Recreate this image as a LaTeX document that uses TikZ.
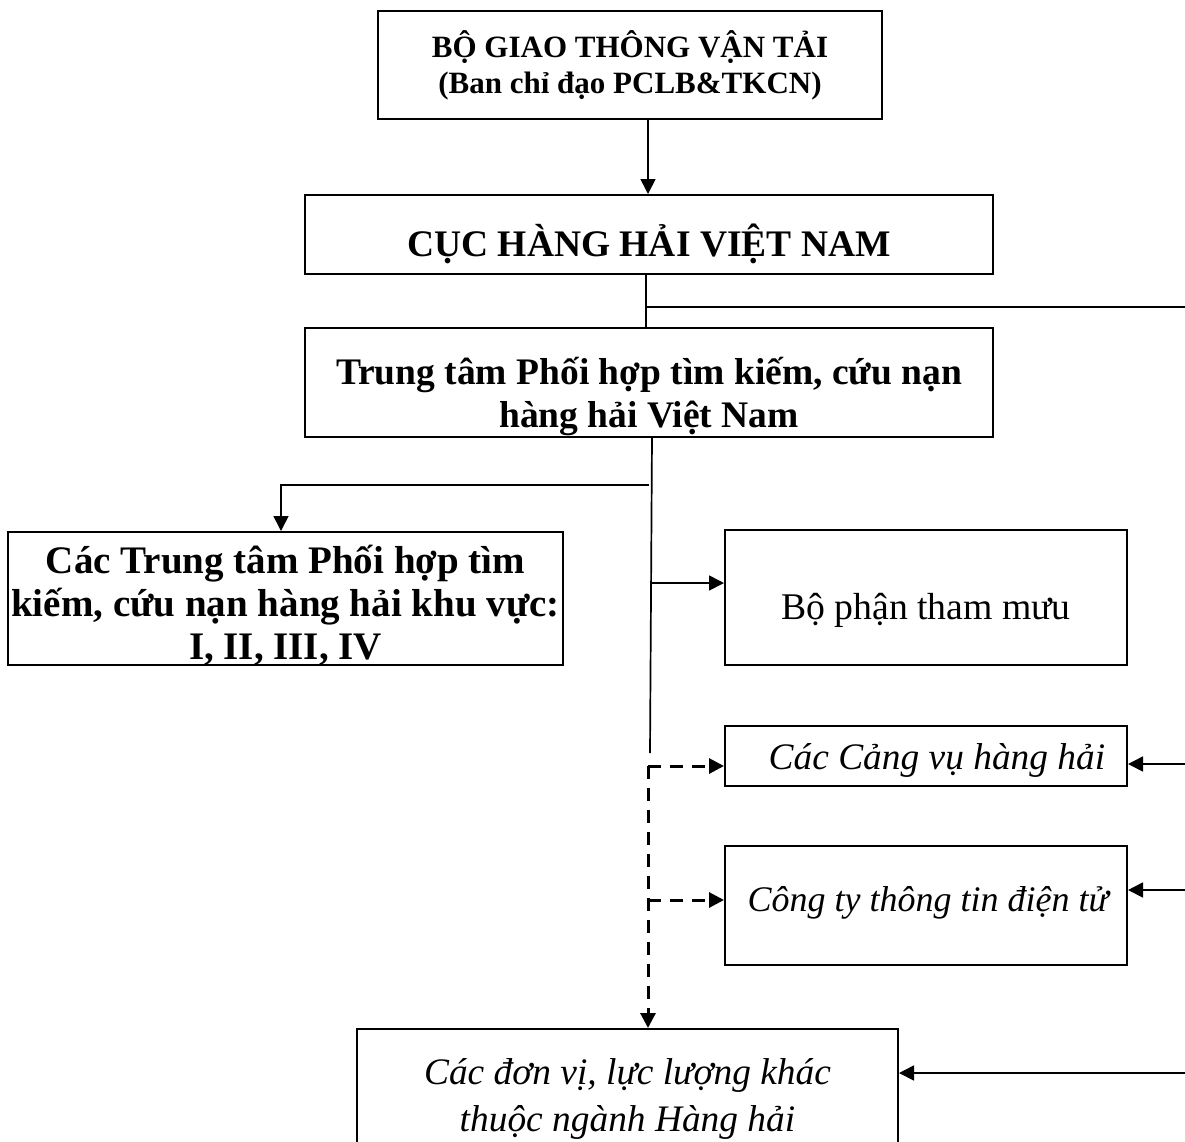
\documentclass[tikz,border=0pt]{standalone}
\usepackage{fontspec}
\setmainfont{Liberation Serif}
\usetikzlibrary{arrows.meta,calc}
\newcommand{\mvtext}[2]{\raisebox{#1}[\height][\depth]{\begin{tabular}{@{}c@{}}#2\end{tabular}}}
\begin{document}
\begin{tikzpicture}[x=1pt,y=-1pt,
  box/.style={draw,line width=2pt,inner sep=0pt,align=center},
  bigb/.style={font=\fontsize{37.5}{43}\selectfont\bfseries},
  kvb/.style={font=\fontsize{39}{43}\selectfont\bfseries},
  bigr/.style={font=\fontsize{37.7}{43}\selectfont},
  bigi/.style={font=\fontsize{37.4}{47}\selectfont\itshape},
  cti/.style={font=\fontsize{36}{43}\selectfont\itshape},
  conn/.style={line width=1.7pt},
  arr/.style={conn,-{Triangle[length=15pt,width=15pt]}},
  dsh/.style={line width=3pt,dash pattern=on 13pt off 9pt,-{Triangle[length=15pt,width=15pt]}}]
\useasboundingbox (0,0) rectangle (1185,1141);
\clip (0,0) rectangle (1185,1141);
\fill[white] (0,0) rectangle (1185,1141);

\node[box,minimum width=504,minimum height=108,font=\fontsize{31}{36}\selectfont\bfseries] (bgt) at (630,65)
  {\mvtext{-2pt}{BỘ GIAO THÔNG VẬN TẢI\\(Ban chỉ đạo PCLB\&TKCN)}};
\node[box,bigb,minimum width=688,minimum height=79] (cuc) at (649,234.5)
  {\mvtext{-12pt}{CỤC HÀNG HẢI VIỆT NAM}};
\node[box,bigb,minimum width=688,minimum height=109] (tt) at (649,382.5)
  {\mvtext{-15pt}{Trung tâm Phối hợp tìm kiếm, cứu nạn\\hàng hải Việt Nam}};
\node[box,kvb,minimum width=555,minimum height=133] (kv) at (285.5,598.5)
  {\mvtext{-9pt}{Các Trung tâm Phối hợp tìm\\kiếm, cứu nạn hàng hải khu vực:\\I, II, III, IV}};
\node[box,bigr,minimum width=402,minimum height=135] (bp) at (926,597.5)
  {\mvtext{-13pt}{Bộ phận tham mưu}};
\node[box,bigi,minimum width=402,minimum height=60] (cv) at (926,756)
  {\mvtext{-4pt}{\hspace*{22pt}Các Cảng vụ hàng hải}};
\node[box,cti,minimum width=402,minimum height=119] (ct) at (926,905.5)
  {\mvtext{3pt}{\hspace*{4pt}Công ty thông tin điện tử}};
\node[box,bigi,minimum width=541,minimum height=140] (dv) at (627.5,1099)
  {\mvtext{0pt}{Các đơn vị, lực lượng khác\\thuộc ngành Hàng hải}};

% coordinates
\coordinate (s0) at (652,437);
\coordinate (s1) at (650,753);
\coordinate (j1) at (649,485);
\coordinate (j2) at (652,583);
\coordinate (d0) at (648,766);
\coordinate (d2) at (648,900);
\coordinate (r0) at (1190,307);
\coordinate (r1) at (1190,764);
\coordinate (r2) at (1190,890);
\coordinate (r3) at (1190,1073);

\draw[arr] (bgt.south -| 648,0) -- (cuc.north -| 648,0);
\draw[conn] (cuc.south -| 646,0) -- (tt.north -| 646,0);
\draw[conn] (r0 -| 646,0) -- (r0);
\draw[conn] (s0) -- (s1);
\draw[arr] (j1) -| (kv.north -| 281,0);
\draw[arr] (j2) -- (j2 -| bp.west);
\draw[dsh] (d0) -- (d0 -| cv.west);
\draw[dsh] (d2) -- (d2 -| ct.west);
\draw[dsh] (d0) -- (d0 |- dv.north);
\draw[arr] (r1) -- (r1 -| cv.east);
\draw[arr] (r2) -- (r2 -| ct.east);
\draw[arr] (r3) -- (r3 -| dv.east);
\end{tikzpicture}
\end{document}
